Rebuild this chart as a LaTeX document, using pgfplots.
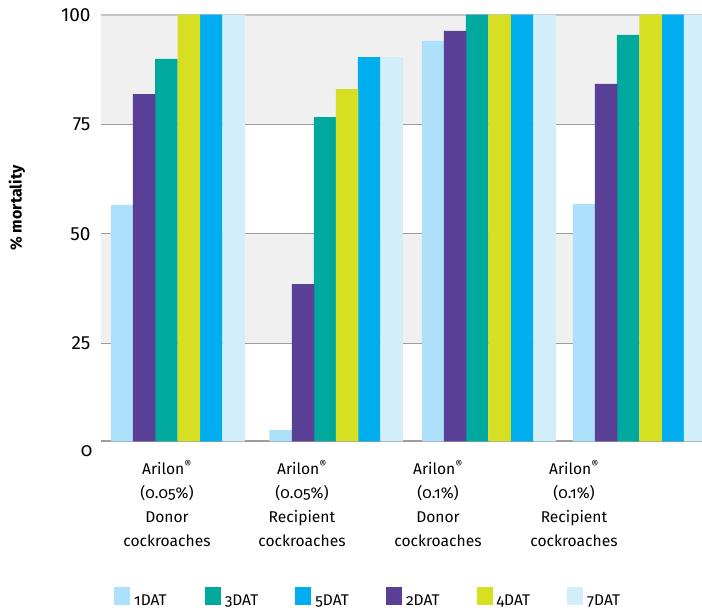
\documentclass[border=0pt]{standalone}
\usepackage{pgfplots}
\pgfplotsset{compat=1.18}
\usepackage{fontspec}
\setmainfont{Fira Sans}
\newfontfamily\osf{Fira Sans}[Numbers=OldStyle]
\usetikzlibrary{calc}
\definecolor{cA}{HTML}{ADE1FB}
\definecolor{cB}{HTML}{5A3F97}
\definecolor{cC}{HTML}{00A99D}
\definecolor{cD}{HTML}{D7DF23}
\definecolor{cE}{HTML}{00AEEF}
\definecolor{cF}{HTML}{D2EEFA}
\definecolor{band}{HTML}{F0F0F0}
\definecolor{gridc}{HTML}{9D9D9D}
\definecolor{topc}{HTML}{C4C4C4}
\pgfplotsset{
  mybar/.style={ybar, bar width=22.5, bar shift=0pt, draw=none, fill=#1,
    legend image code/.code={\fill[#1] (0pt,0pt) rectangle (16pt,18pt);}},
}
\begin{document}
\begin{tikzpicture}
\begin{axis}[
  name=ax,
  scale only axis, width=601pt, height=427.9pt,
  xmin=101, xmax=702, ymin=2.62, ymax=100.3,
  axis line style={draw=none},
  tick style={draw=none},
  /pgf/number format/assume math mode=true,
  ytick={25,50,75,100},
  yticklabel style={font=\fontsize{19}{19}\selectfont, inner sep=0pt, xshift=-10.3pt},
  extra y ticks={2.62}, extra y tick labels={{\osf 0}},
  extra y tick style={yticklabel style={yshift=-9.7pt, xshift=2pt}},
  xtick={167,302,438,574},
  xticklabels={{Arilon\textsuperscript{®}\\(0.05\%)\\Donor\\cockroaches},
               {Arilon\textsuperscript{®}\\(0.05\%)\\Recipient\\cockroaches},
               {Arilon\textsuperscript{®}\\(0.1\%)\\Donor\\cockroaches},
               {Arilon\textsuperscript{®}\\(0.1\%)\\Recipient\\cockroaches}},
  xticklabel style={align=center, font=\osf\fontsize{15.6}{24.2}\selectfont, inner sep=0pt, anchor=north, yshift=-19.2pt},
  ylabel={\% mortality},
  ylabel style={font=\bfseries\fontsize{16}{16}\selectfont, at={(rel axis cs:-0.1398,0.545)}, anchor=center},
  legend columns=6,
  legend style={at={(rel axis cs:0.02163,-0.3405)}, anchor=north west, draw=none, fill=none, inner sep=0pt,
    font=\osf\fontsize{15.5}{15.5}\selectfont,
    /tikz/every odd column/.append style={column sep=4pt},
    /tikz/every even column/.append style={column sep=20.6pt},
    nodes={inner sep=0pt, anchor=base west}},
]
% background bands
\addplot[fill=band, draw=none, forget plot] coordinates {(101,25) (702,25) (702,50) (101,50)} -- cycle;
\addplot[fill=band, draw=none, forget plot] coordinates {(101,75) (702,75) (702,100) (101,100)} -- cycle;
% grid lines
\addplot[gridc, line width=1pt, forget plot] coordinates {(101,25) (702,25)};
\addplot[gridc, line width=1pt, forget plot] coordinates {(101,50) (702,50)};
\addplot[gridc, line width=1pt, forget plot] coordinates {(101,75) (702,75)};
\addplot[topc, line width=1.6pt, forget plot] coordinates {(101,100) (702,100)};
\addplot[gridc, line width=2pt, forget plot] coordinates {(101,2.62) (702,2.62)};
% bars
\addplot[mybar=cA] coordinates {(122.1,56.6) (280.5,5.2) (433.1,94.0) (584.1,56.8)};
\addlegendentry{\makebox[50pt][l]{1DAT}}
\addplot[mybar=cC] coordinates {(166.5,89.9) (325,76.6) (477.2,100) (628.2,95.4)};
\addlegendentry{\makebox[50pt][l]{3DAT}}
\addplot[mybar=cE] coordinates {(211,100) (369,90.3) (522,100) (673,100)};
\addlegendentry{\makebox[50pt][l]{5DAT}}
\addplot[mybar=cB] coordinates {(144.2,81.9) (303,38.5) (455.2,96.3) (606.2,84.2)};
\addlegendentry{\makebox[50pt][l]{2DAT}}
\addplot[mybar=cD] coordinates {(189,100) (347,83.0) (499.5,100) (650.5,100)};
\addlegendentry{\makebox[50pt][l]{4DAT}}
\addplot[mybar=cF] coordinates {(233.5,100) (391.5,90.3) (544.5,100) (695,100)};
\addlegendentry{\makebox[50pt][l]{7DAT}}
\end{axis}
\pgfresetboundingbox
\path ($(ax.south west)+(-101pt,-172.7pt)$) rectangle ($(ax.north east)+(0pt,13.4pt)$);
\end{tikzpicture}
\end{document}
